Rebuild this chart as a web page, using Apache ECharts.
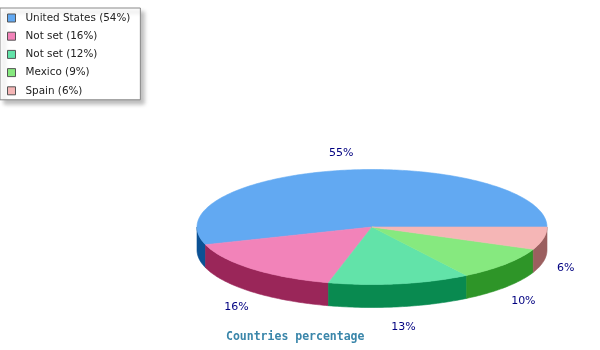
<!DOCTYPE html>
<html>
<head>
<meta charset="utf-8">
<script src="https://cdn.jsdelivr.net/npm/echarts@6/dist/echarts.min.js"></script>
<style>
html,body{margin:0;padding:0;background:#fff;}
#chart{width:600px;height:350px;}
</style>
</head>
<body>
<div id="chart"></div>
<script>
const categories = ['United States', 'Not set', 'Not set', 'Mexico', 'Spain'];
const legendLabels = ['United States (54%)', 'Not set (16%)', 'Not set (12%)', 'Mexico (9%)', 'Spain (6%)'];
const values = [54.6, 15.9, 13.0, 9.5, 6.3];
const topColors = ['#62a9f2', '#f283b9', '#62e3a9', '#86e97f', '#f5b6b6'];
const sideColors = ['#0b5194', '#9a2659', '#098a50', '#2e9528', '#9b5f5f'];
const titleText = 'Countries percentage';

const CX = 372, CY = 227, RX = 175, RY = 57.5, DEPTH = 23;

const total = values.reduce((s, v) => s + v, 0);
const starts = [], ends = [];
let acc = 0;
values.forEach(v => {
  starts.push(acc / total * 360);
  acc += v;
  ends.push(acc / total * 360);
});

function ellPt(tDeg, dy) {
  const t = tDeg * Math.PI / 180;
  return [CX + RX * Math.cos(t), CY - RY * Math.sin(t) + (dy || 0)];
}
function arc(a, b, dy) {
  const pts = [];
  const n = Math.max(2, Math.ceil(b - a));
  for (let k = 0; k <= n; k++) pts.push(ellPt(a + (b - a) * k / n, dy));
  return pts;
}

function renderItem(params, api) {
  const i = params.seriesIndex;
  const a = starts[i], b = ends[i];
  const children = [];
  const s = Math.max(a, 180), e = Math.min(b, 360);
  if (e > s) {
    const pts = arc(s, e, 0).concat(arc(s, e, DEPTH).reverse());
    children.push({ type: 'polygon', z2: 1, shape: { points: pts },
      style: { fill: sideColors[i], stroke: sideColors[i], lineWidth: 0.6 } });
  }
  const topPts = [[CX, CY]].concat(arc(a, b, 0));
  children.push({ type: 'polygon', z2: 2, shape: { points: topPts },
    style: { fill: topColors[i], stroke: topColors[i], lineWidth: 0.6 } });
  const mid = (a + b) / 2;
  const t = mid * Math.PI / 180;
  const lx = CX + RX * 1.13 * Math.cos(t);
  const ly = CY - RY * 1.3 * Math.sin(t) + (Math.sin(t) < 0 ? DEPTH + 3 : 0);
  const pct = Math.round(api.value(0) / total * 100) + '%';
  children.push({ type: 'text', z2: 3, x: lx, y: ly,
    style: { text: pct, fill: '#000080', font: '11px "DejaVu Sans"', align: 'center', verticalAlign: 'middle' } });
  return { type: 'group', children: children };
}

const chart = echarts.init(document.getElementById('chart'), null, { renderer: 'canvas' });
chart.setOption({
  animation: false,
  title: {
    text: titleText,
    left: 226, top: 330.5, padding: 0,
    textStyle: { fontFamily: '"DejaVu Sans Mono"', fontWeight: 'bold', fontSize: 11.5, color: '#3a86aa', lineHeight: 14 }
  },
  legend: {
    orient: 'vertical',
    left: 0, top: 8,
    padding: [3, 10, 2, 7],
    itemWidth: 8, itemHeight: 8, itemGap: 4.2,
    icon: 'rect',
    itemStyle: { borderColor: '#555', borderWidth: 1 },
    backgroundColor: '#fff',
    borderColor: '#888', borderWidth: 1,
    shadowColor: 'rgba(0,0,0,0.25)', shadowBlur: 4, shadowOffsetX: 4, shadowOffsetY: 4,
    textStyle: { fontFamily: '"DejaVu Sans"', fontSize: 10.4, color: '#222', lineHeight: 14, padding: [0, 0, 0, 5] },
    data: legendLabels
  },
  series: values.map((v, i) => ({
    type: 'custom',
    name: legendLabels[i],
    coordinateSystem: 'none',
    itemStyle: { color: topColors[i] },
    renderItem: renderItem,
    data: [[v]]
  }))
});
</script>
</body>
</html>
